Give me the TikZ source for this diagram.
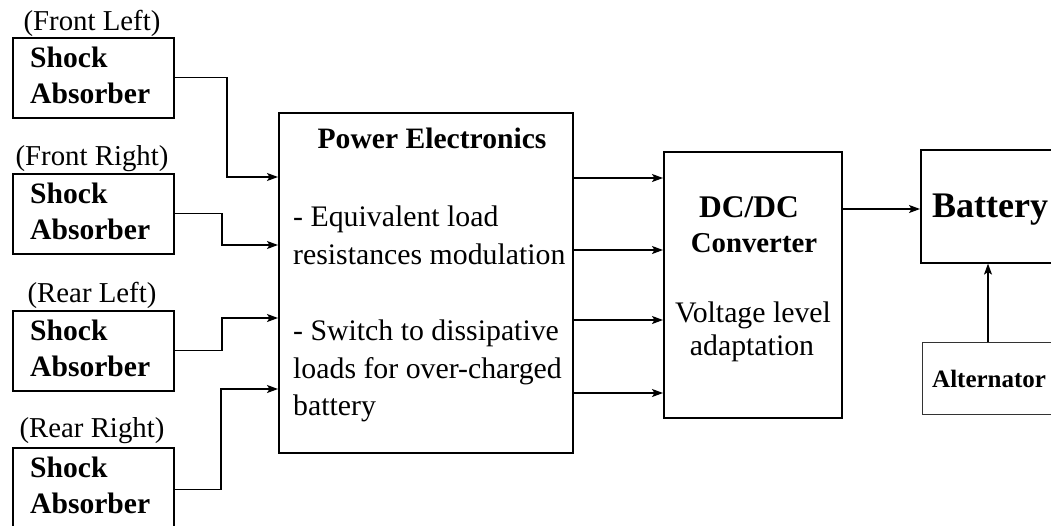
\documentclass[tikz,border=0pt]{standalone}
\usepackage{fontspec}
\setmainfont{Liberation Serif}
\usetikzlibrary{arrows.meta}
\begin{document}
\begin{tikzpicture}[x=1pt,y=-1pt,
  box/.style={draw,line width=1.6pt,rectangle,inner sep=0pt,anchor=north west},
  thinbox/.style={draw,line width=1.2pt,rectangle,inner sep=0pt,anchor=north west,draw=black!80},
  arr/.style={line width=1.3pt,-{Stealth[length=11pt,width=8pt,inset=2.5pt]}},
  txt/.style={inner sep=0pt,font=\fontsize{29.8}{38}\selectfont},
  btxt/.style={inner sep=0pt,font=\fontsize{29.6}{38}\selectfont\bfseries},
  lbl/.style={inner sep=0pt,anchor=base,font=\fontsize{28.8}{32}\selectfont}]
\useasboundingbox (0,0) rectangle (1051,525);
\clip (0,0) rectangle (1051,525);
% shock absorbers
\node[box,minimum width=161pt,minimum height=80pt] (fl) at (12,37) {};
\node[box,minimum width=161pt,minimum height=80pt] (fr) at (12,173) {};
\node[box,minimum width=161pt,minimum height=80pt] (rl) at (12,310) {};
\node[box,minimum width=161pt,minimum height=84pt] (rr) at (12,447) {};
\node[lbl] (flt) at (92,30) {(Front Left)};
\node[lbl] (frt) at (92,165) {(Front Right)};
\node[lbl] (rlt) at (92,302) {(Rear Left)};
\node[lbl] (rrt) at (92,437) {(Rear Right)};
\foreach \n/\y in {fl/37,fr/173,rl/310,rr/447}{
  \node[btxt,anchor=base west] (\n s) at (30,\y+30) {Shock};
  \node[btxt,anchor=base west] (\n a) at (30,\y+66) {Absorber};
}
% power electronics
\node[box,minimum width=294pt,minimum height=340pt] (pe) at (278,112) {};
\node[btxt,anchor=base] (pet) at (432,148) {Power Electronics};
\node[txt,anchor=base west] (pe1) at (293,226) {- Equivalent load};
\node[txt,anchor=base west] (pe2) at (293,264) {resistances modulation};
\node[txt,anchor=base west] (pe3) at (293,340) {- Switch to dissipative};
\node[txt,anchor=base west] (pe4) at (293,378) {loads for over-charged};
\node[txt,anchor=base west] (pe5) at (293,415) {battery};
% DC/DC
\node[box,minimum width=178pt,minimum height=266pt] (dc) at (663,151) {};
\node[inner sep=0pt,anchor=base,font=\fontsize{31.5}{38}\selectfont\bfseries] (dct1) at (749,217) {DC/DC};
\node[inner sep=0pt,anchor=base,font=\fontsize{28.8}{38}\selectfont\bfseries] (dct2) at (754,252) {Converter};
\node[txt,anchor=base] (dct3) at (753,322) {Voltage level};
\node[txt,anchor=base] (dct4) at (752,355) {adaptation};
% battery, alternator
\node[box,minimum width=160pt,minimum height=113pt] (bat) at (920,149) {};
\node[inner sep=0pt,anchor=base west,font=\fontsize{36}{40}\selectfont\bfseries] (batt) at (932,217) {Battery};
\node[thinbox,minimum width=160pt,minimum height=72pt] (alt) at (922,342) {};
\node[inner sep=0pt,anchor=base west,font=\fontsize{25}{28}\selectfont\bfseries] (altt) at (932,387) {Alternator};
% connectors shock -> PE
\draw[arr] (fl.east) -| (227,120) |- (pe.west |- 0,177);
\draw[arr] (fr.east) -| (222,230) |- (pe.west |- 0,245);
\draw[arr] (rl.east) -| (222,330) |- (pe.west |- 0,318);
\draw[arr] (rr.east) -| (221,420) |- (pe.west |- 0,389);
% PE -> DC
\foreach \y in {178,250,320,393}{
  \draw[arr] (pe.east |- 0,\y) -- (dc.west |- 0,\y);
}
% DC -> battery
\draw[arr] (dc.east |- 0,209) -- (bat.west |- 0,209);
% alternator -> battery
\draw[arr] (alt.north -| 988,0) -- (bat.south -| 988,0);
\end{tikzpicture}
\end{document}
